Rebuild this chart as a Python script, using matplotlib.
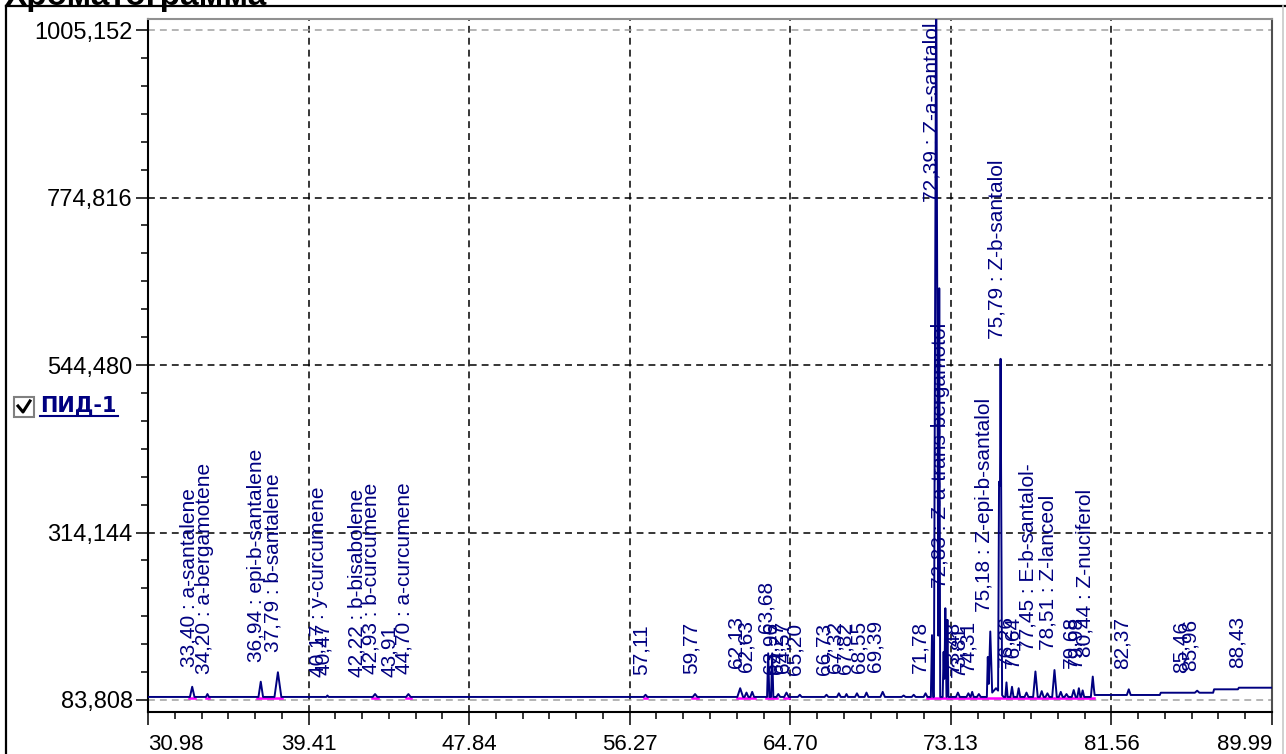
import numpy as np
import matplotlib
matplotlib.use("Agg")
import matplotlib.pyplot as plt
import matplotlib.transforms as mtransforms
from matplotlib.lines import Line2D
from matplotlib.patches import Rectangle

# --- data ---
x_ticks = [30.98, 39.41, 47.84, 56.27, 64.70, 73.13, 81.56, 89.99]
x_tick_labels = ["30.98", "39.41", "47.84", "56.27", "64.70", "73.13", "81.56", "89.99"]
y_ticks = [83.808, 314.144, 544.480, 774.816, 1005.152]
y_tick_labels = ["83,808", "314,144", "544,480", "774,816", "1005,152"]

# baseline of the signal (time, value)
base_t = [30.98, 80.62, 80.64, 84.10, 84.15, 86.90, 86.95, 88.20, 88.25, 89.99]
base_v = [88.0, 88.0, 90.7, 90.7, 93.8, 93.8, 98.5, 98.5, 100.7, 100.7]

# peaks: apex time, apex value, half base width
peak_rt = [33.30, 34.10, 36.90, 37.80, 40.40, 42.90, 44.65, 57.10, 59.70,
           62.07, 62.40, 62.70, 63.54, 63.75, 64.07, 64.50, 65.20, 66.60,
           67.25, 67.65, 68.20, 68.70, 69.55, 70.65, 71.18, 71.80,
           72.14, 72.36, 72.52, 72.75, 72.84, 72.95, 73.50, 74.05, 74.25, 74.60,
           75.07, 75.20, 75.50, 75.66, 75.74, 76.05, 76.34, 76.69, 77.10,
           77.57, 77.90, 78.20, 78.57, 78.90, 79.20, 79.58, 79.85, 80.05,
           80.58, 82.47, 86.06]
peak_top = [102, 92, 109, 122, 90, 92, 92, 91, 92,
            100, 94, 95, 148, 148, 92, 94, 91, 91,
            93, 92, 93, 94, 95, 90, 91, 93,
            173, 1100, 650, 150, 210, 194, 94, 93, 95, 92,
            143, 178, 100, 384, 553, 108, 102, 100, 94,
            123, 96, 93, 125, 95, 92, 97.5, 100, 97,
            116, 98.5, 96.6]
peak_hw = [0.12, 0.08, 0.12, 0.18, 0.06, 0.12, 0.12, 0.10, 0.12,
           0.15, 0.10, 0.10, 0.06, 0.06, 0.10, 0.12, 0.10, 0.10,
           0.10, 0.08, 0.10, 0.10, 0.12, 0.10, 0.10, 0.10,
           0.06, 0.12, 0.05, 0.05, 0.06, 0.05, 0.10, 0.10, 0.08, 0.10,
           0.05, 0.10, 0.40, 0.05, 0.08, 0.06, 0.08, 0.08, 0.10,
           0.12, 0.10, 0.10, 0.12, 0.10, 0.10, 0.10, 0.08, 0.08,
           0.10, 0.10, 0.12]

# magenta integration baseline segments
integ_start = [33.15, 34.0, 36.70, 42.75, 44.50, 57.0, 59.55, 61.90, 63.45, 64.35, 71.90]
integ_end = [33.45, 34.2, 38.00, 43.05, 44.80, 57.2, 59.85, 62.85, 64.00, 64.65, 80.67]
integ_v = 86.8

# peak labels
label_rt = [33.40, 34.20, 36.94, 37.79, 40.17, 40.47, 42.22, 42.93, 43.91, 44.70,
            57.11, 59.77, 62.13, 62.63, 63.68, 63.96, 64.27, 64.57, 65.20,
            66.73, 67.32, 67.82, 68.55, 69.39, 71.78, 72.39, 72.83,
            73.48, 73.81, 74.31, 75.18, 75.79, 76.26, 76.64, 77.45, 78.51,
            79.68, 79.98, 80.44, 82.37, 85.46, 85.96, 88.43]
label_name = ["a-santalene", "a-bergamotene", "epi-b-santalene", "b-santalene",
              "y-curcumene", "", "b-bisabolene", "b-curcumene", "", "a-curcumene",
              "", "", "", "", "", "", "", "", "",
              "", "", "", "", "", "", "Z-a-santalol", "Z-a-trans-bergamotol",
              "", "", "", "Z-epi-b-santalol", "Z-b-santalol", "", "", "E-b-santalol-", "Z-lanceol",
              "", "", "Z-nuciferol", "", "", "", ""]

# --- build the trace from baseline and peaks ---
pts = set(base_t)
for rt, hw in zip(peak_rt, peak_hw):
    pts.update([rt - hw, rt, rt + hw])
t = np.array(sorted(p for p in pts if 30.98 <= p <= 89.99))
sig = np.interp(t, base_t, base_v)
for rt, top, hw in zip(peak_rt, peak_top, peak_hw):
    tri = top - (top - np.interp(rt, base_t, base_v)) * np.abs(t - rt) / hw
    sig = np.maximum(sig, np.where(np.abs(t - rt) <= hw, tri, -np.inf))

navy = "#000080"
font = "Liberation Sans"

fig = plt.figure(figsize=(12.86, 7.54), dpi=100)
W, H = 1286, 754
ax = fig.add_axes([148 / W, 1 - 712 / H, (1272 - 148) / W, (712 - 19) / H])
ymin, ymax = 67.3, 1020.3
ax.set_xlim(30.98, 89.99)
ax.set_ylim(ymin, ymax)

dash = (0, (4.5, 3.3))
for xv in x_ticks[1:-1]:
    ax.axvline(xv, color="black", lw=1.1, ls=dash, zorder=1)
for yv in y_ticks:
    c = "#a0a0a0" if yv in (y_ticks[0], y_ticks[-1]) else "black"
    ax.axhline(yv, color=c, lw=1.1, ls=dash, zorder=1)

for s, e in zip(integ_start, integ_end):
    ax.plot([s, e], [integ_v, integ_v], color="#ff00ff", lw=1.8, zorder=2)
ax.plot(t, sig, color=navy, lw=1.4, zorder=3)

# labels
for rt, name in zip(label_rt, label_name):
    txt = f"{rt:.2f}".replace(".", ",")
    if name:
        txt += " : " + name
    m = (t >= rt - 0.2) & (t <= rt + 0.2)
    top = sig[m].max() if m.any() else np.interp(rt, t, sig)
    if top > ymax:
        off = mtransforms.offset_copy(ax.transData, fig=fig, x=-5, y=-3, units="dots")
        ax.text(rt, ymax, txt, rotation=90, ha="center", va="top", color=navy,
                fontsize=15, family=font, transform=off, zorder=4)
    else:
        off = mtransforms.offset_copy(ax.transData, fig=fig, x=-5, y=20, units="dots")
        ax.text(rt, top, txt, rotation=90, ha="center", va="bottom", color=navy,
                fontsize=15, family=font, transform=off, zorder=4)

ax.set_xticks(x_ticks)
ax.set_xticklabels(x_tick_labels, family=font, fontsize=16)
xl = ax.get_xticklabels()
xl[0].set_ha("left")
xl[-1].set_ha("right")
ax.set_xticks(np.arange(30.98, 89.995, 8.43 / 6), minor=True)
ax.set_yticks(y_ticks)
ax.set_yticklabels(y_tick_labels, family=font, fontsize=17)
ax.set_yticks(np.arange(83.808, 1015, 230.336 / 6), minor=True)
ax.tick_params(which="major", direction="out", length=9, width=1.1, color="black")
ax.tick_params(which="minor", direction="out", length=5, width=1.1, color="black")
ax.tick_params(axis="x", pad=7)
ax.tick_params(axis="y", pad=2)

ax.spines["left"].set_linewidth(1.5)
ax.spines["bottom"].set_linewidth(1.5)
ax.spines["top"].set_color("#909090")
ax.spines["top"].set_linewidth(1.5)
ax.spines["right"].set_color("#505050")
ax.spines["right"].set_linewidth(1.5)

# frame and title
fig.add_artist(Line2D([6 / W, 6 / W], [0, 1 - 6 / H], color="black", lw=1.6))
fig.add_artist(Line2D([6 / W, 1], [1 - 6 / H, 1 - 6 / H], color="black", lw=1.6))
fig.add_artist(Line2D([1283 / W, 1283 / W], [0, 1 - 6 / H], color="#c8c8c8", lw=1.2))
fig.text(5 / W, 1 - 5 / H, "Хроматограмма", fontsize=24, fontweight="bold",
         family=font, va="baseline", ha="left")

# channel checkbox
fig.add_artist(Rectangle((14 / W, 1 - 417 / H), 20 / W, 20 / H, facecolor="white",
                         edgecolor="#808080", lw=1.5))
fig.add_artist(Line2D(np.array([18, 23, 30]) / W, 1 - np.array([406, 412, 401]) / H,
                      color="black", lw=2.2))
fig.text(40 / W, 1 - 406 / H, "ПИД-1", fontsize=15, fontweight="bold", color=navy,
         family="DejaVu Sans", va="center", ha="left")
fig.add_artist(Line2D([40 / W, 118 / W], [1 - 416 / H, 1 - 416 / H], color=navy, lw=1.5))

fig.savefig("out.png", dpi=100)
